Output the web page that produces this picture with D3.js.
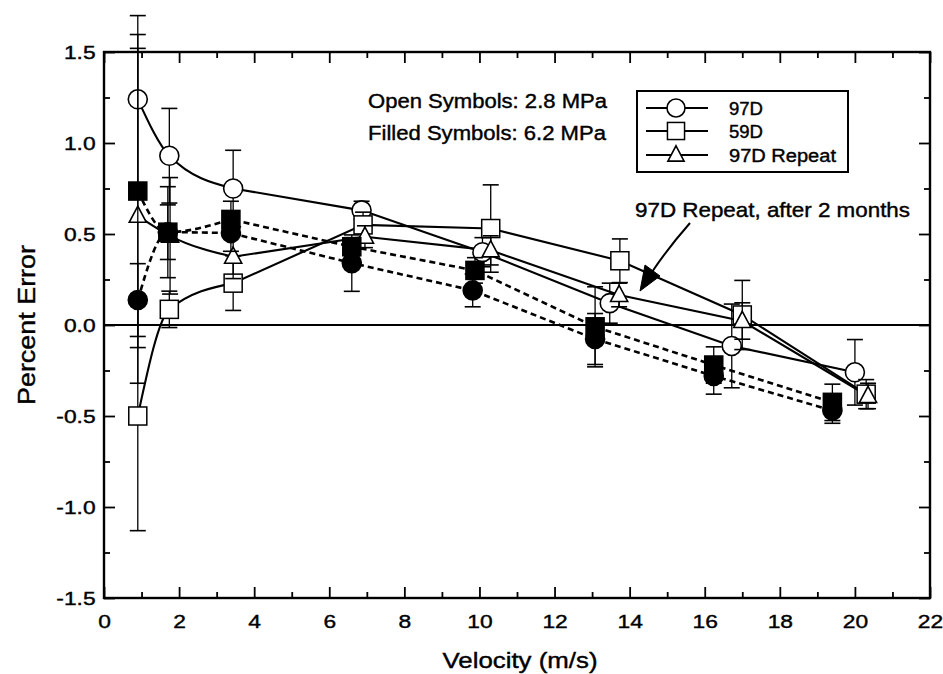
<!DOCTYPE html>
<html><head><meta charset="utf-8">
<script src="https://cdn.jsdelivr.net/npm/d3@7"></script>
<style>
html,body{margin:0;padding:0;background:#fff;}
svg{display:block;}
text{font-family:"Liberation Sans",Arial,Helvetica,sans-serif;fill:#000;}
</style></head>
<body>
<svg id="chart" width="943" height="674"></svg>
<script>
// ---------- data ----------
const xTickValues = [0,2,4,6,8,10,12,14,16,18,20,22];
const xTickLabels = ["0","2","4","6","8","10","12","14","16","18","20","22"];
const yTickValues = [-1.5,-1.0,-0.5,0.0,0.5,1.0,1.5];
const yTickLabels = ["-1.5","-1.0","-0.5","0.0","0.5","1.0","1.5"];

// 97D, 2.8 MPa (open circles)
const o97_x   = [0.90, 1.74, 3.44, 6.86, 10.08, 13.47, 16.72, 20.0];
const o97_y   = [1.24, 0.93, 0.75, 0.63, 0.40, 0.12, -0.115, -0.26];
const o97_err = [0.46, 0.26, 0.21, 0.05, 0.08, 0.11, 0.23, 0.18];
// 59D, 2.8 MPa (open squares)
const o59_x   = [0.90, 1.74, 3.44, 6.90, 10.30, 13.74, 17.0, 20.3];
const o59_y   = [-0.50, 0.086, 0.23, 0.55, 0.53, 0.353, 0.055, -0.38];
const o59_err = [0.63, 0.10, 0.15, 0.07, 0.24, 0.12, 0.19, 0.08];
// 97D Repeat, 2.8 MPa (open triangles)
const oRp_x   = [0.90, 1.76, 3.44, 6.95, 10.30, 13.72, 17.0, 20.35];
const oRp_y   = [0.60, 0.49, 0.375, 0.485, 0.41, 0.165, 0.022, -0.39];
const oRp_err = [0.92, 0.32, 0.12, 0.06, 0.08, 0.065, 0.10, 0.07];
// 97D, 6.2 MPa (filled circles)
const f97_x   = [0.90, 1.70, 3.38, 6.60, 9.82, 13.08, 16.24, 19.4];
const f97_y   = [0.137, 0.51, 0.505, 0.34, 0.19, -0.077, -0.28, -0.47];
const f97_err = [0.20, 0.25, 0.10, 0.155, 0.09, 0.14, 0.10, 0.07];
// 59D, 6.2 MPa (filled squares)
const f59_x   = [0.90, 1.70, 3.38, 6.60, 9.88, 13.08, 16.24, 19.4];
const f59_y   = [0.736, 0.51, 0.58, 0.43, 0.30, -0.01, -0.22, -0.425];
const f59_err = [0.86, 0.15, 0.10, 0.05, 0.07, 0.22, 0.10, 0.10];

const legendLabels = ["97D","59D","97D Repeat"];
const noteOpen = "Open Symbols: 2.8 MPa";
const noteFilled = "Filled Symbols: 6.2 MPa";
const arrowNote = "97D Repeat, after 2 months";
const xTitle = "Velocity (m/s)";
const yTitle = "Percent Error";

// ---------- layout ----------
const svg = d3.select("#chart");
const L = 104, R = 930, T = 52, B = 598;
const X = d3.scaleLinear().domain([0,22]).range([L,R]);
const Y = d3.scaleLinear().domain([-1.5,1.5]).range([B,T]);

function zip(xs, ys, es){ return xs.map((x,i)=>({x:x, y:ys[i], e:es[i]})); }
const series = [
  {data: zip(o97_x,o97_y,o97_err), shape:"circle",   fill:false, dash:null},
  {data: zip(o59_x,o59_y,o59_err), shape:"square",   fill:false, dash:null},
  {data: zip(oRp_x,oRp_y,oRp_err), shape:"triangle", fill:false, dash:null},
  {data: zip(f97_x,f97_y,f97_err), shape:"circle",   fill:true,  dash:"6,4"},
  {data: zip(f59_x,f59_y,f59_err), shape:"square",   fill:true,  dash:"6,4"}
];

// axes ticks (inward, all four sides)
function styleAxis(g){
  g.select(".domain").remove();
  g.selectAll(".tick line").attr("stroke","#000").attr("stroke-width",1.8);
}
const fmtX = (d)=>xTickLabels[xTickValues.indexOf(d)];
const fmtY = (d)=>yTickLabels[yTickValues.findIndex(v=>Math.abs(v-d)<1e-9)];
const xMinor = d3.range(1,22,2);
const yMinor = d3.range(-1.25,1.5,0.5);

svg.append("g").attr("transform",`translate(0,${B})`)
  .call(d3.axisBottom(X).tickValues(xTickValues).tickSize(-11).tickSizeOuter(0).tickPadding(17).tickFormat(fmtX))
  .call(styleAxis)
  .call(g=>g.selectAll("text").attr("font-size",19).attr("font-family","Liberation Sans, Arial, sans-serif")
        .attr("fill","#000").attr("stroke","#000").attr("stroke-width",0.4).attr("transform","scale(1.2,1)"));
svg.append("g").attr("transform",`translate(0,${B})`)
  .call(d3.axisBottom(X).tickValues(xMinor).tickSize(-6).tickSizeOuter(0).tickFormat(""))
  .call(styleAxis);
svg.append("g").attr("transform",`translate(0,${T})`)
  .call(d3.axisTop(X).tickValues(xTickValues).tickSize(-11).tickSizeOuter(0).tickFormat(""))
  .call(styleAxis);
svg.append("g").attr("transform",`translate(0,${T})`)
  .call(d3.axisTop(X).tickValues(xMinor).tickSize(-6).tickSizeOuter(0).tickFormat(""))
  .call(styleAxis);
svg.append("g").attr("transform",`translate(${L},0)`)
  .call(d3.axisLeft(Y).tickValues(yTickValues).tickSize(-11).tickSizeOuter(0).tickPadding(7).tickFormat(fmtY))
  .call(styleAxis)
  .call(g=>g.selectAll("text").attr("font-size",19).attr("font-family","Liberation Sans, Arial, sans-serif")
        .attr("fill","#000").attr("stroke","#000").attr("stroke-width",0.4).attr("transform","scale(1.2,1)"));
svg.append("g").attr("transform",`translate(${L},0)`)
  .call(d3.axisLeft(Y).tickValues(yMinor).tickSize(-6).tickSizeOuter(0).tickFormat(""))
  .call(styleAxis);
svg.append("g").attr("transform",`translate(${R},0)`)
  .call(d3.axisRight(Y).tickValues(yTickValues).tickSize(-11).tickSizeOuter(0).tickFormat(""))
  .call(styleAxis);
svg.append("g").attr("transform",`translate(${R},0)`)
  .call(d3.axisRight(Y).tickValues(yMinor).tickSize(-6).tickSizeOuter(0).tickFormat(""))
  .call(styleAxis);

// frame
svg.append("rect").attr("x",L).attr("y",T).attr("width",R-L).attr("height",B-T)
  .attr("fill","none").attr("stroke","#000").attr("stroke-width",2.4);
// zero line
svg.append("line").attr("x1",L).attr("x2",R).attr("y1",Y(0)).attr("y2",Y(0))
  .attr("stroke","#000").attr("stroke-width",2.2);

// lines: smooth bend over the first points, straight segments afterwards
const curveHead = d3.line().x(d=>X(d.x)).y(d=>Y(d.y)).curve(d3.curveMonotoneX);
const straight  = d3.line().x(d=>X(d.x)).y(d=>Y(d.y));
series.forEach(s=>{
  const p1 = curveHead(s.data.slice(0,3));
  const p2 = straight(s.data.slice(2)).replace(/^M/,"L");
  svg.append("path").attr("d",p1+p2).attr("fill","none")
    .attr("stroke","#000").attr("stroke-width",s.dash?2.6:2.1)
    .attr("stroke-dasharray",s.dash);
});

// markers
function drawMarker(g, shape, cx, cy, filled, size){
  const fl = filled ? "#000" : "#fff";
  if(shape==="circle"){
    g.append("circle").attr("cx",cx).attr("cy",cy).attr("r",size*0.5)
      .attr("fill",fl).attr("stroke","#000").attr("stroke-width",1.6);
  } else if(shape==="square"){
    const h = size*0.95;
    g.append("rect").attr("x",cx-h/2).attr("y",cy-h/2).attr("width",h).attr("height",h)
      .attr("fill",fl).attr("stroke","#000").attr("stroke-width",1.5);
  } else {
    const w = size*0.9, hh = size*0.85;
    g.append("path").attr("d",`M${cx},${cy-hh*0.6}L${cx+w/2},${cy+hh*0.4}L${cx-w/2},${cy+hh*0.4}Z`)
      .attr("fill",fl).attr("stroke","#000").attr("stroke-width",1.6);
  }
}

series.forEach(s=>{
  const g = svg.append("g");
  s.data.forEach(d=>{
    const cx = X(d.x), y1 = Y(d.y+d.e), y2 = Y(d.y-d.e);
    g.append("line").attr("x1",cx).attr("x2",cx).attr("y1",y1).attr("y2",y2)
      .attr("stroke","#000").attr("stroke-width",1.3);
    [y1,y2].forEach(yy=>g.append("line").attr("x1",cx-8).attr("x2",cx+8).attr("y1",yy).attr("y2",yy)
      .attr("stroke","#000").attr("stroke-width",1.6));
  });
  s.data.forEach(d=>drawMarker(g, s.shape, X(d.x), Y(d.y), s.fill, 19));
});

// text helper
function label(x, y, s, size, anchor, len){
  const t = svg.append("text").attr("x",x).attr("y",y).attr("font-size",size)
    .attr("text-anchor",anchor||"start").attr("stroke","#000").attr("stroke-width",0.4).text(s);
  if(len) t.attr("textLength",len).attr("lengthAdjust","spacingAndGlyphs");
  return t;
}

// notes
label(368,108,noteOpen,20,"start",239);
label(368,140,noteFilled,20,"start",238);

// legend
svg.append("rect").attr("x",637).attr("y",91).attr("width",211).attr("height",81)
  .attr("fill","#fff").attr("stroke","#000").attr("stroke-width",2);
const legShapes = ["circle","square","triangle"];
const legY = [108,131,155];
legendLabels.forEach((lab,i)=>{
  const y = legY[i];
  svg.append("line").attr("x1",646).attr("x2",708).attr("y1",y).attr("y2",y)
    .attr("stroke","#000").attr("stroke-width",2);
  drawMarker(svg, legShapes[i], 676, y, false, 18);
  label(729, y+7, lab, 18, "start", [34,34,107][i]);
});

// arrow annotation
label(635,217,arrowNote,21,"start",275);
svg.append("path").attr("d","M690,223 Q668,248 652,272")
  .attr("fill","none").attr("stroke","#000").attr("stroke-width",2);
svg.append("path").attr("d","M640,291 L645,265 L660,276 Z").attr("fill","#000").attr("stroke","#000").attr("stroke-width",1);

// axis titles
label(520,668,xTitle,22,"middle",155);
svg.append("text").attr("transform","translate(35,325) rotate(-90)")
  .attr("text-anchor","middle").attr("font-size",23).attr("stroke","#000").attr("stroke-width",0.4)
  .attr("textLength",160).attr("lengthAdjust","spacingAndGlyphs").text(yTitle);
</script>
</body></html>
